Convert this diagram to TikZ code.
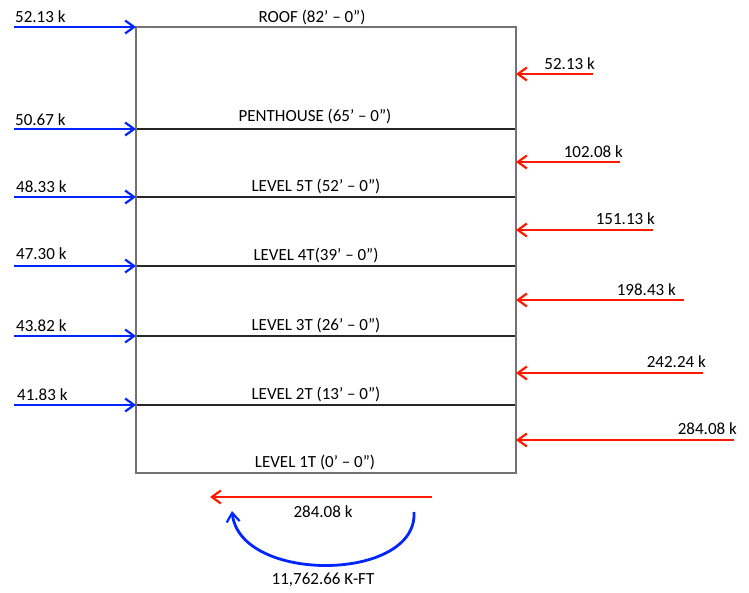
\documentclass[tikz,border=0pt]{standalone}
\usepackage{fontspec}
\setmainfont{Carlito}
\usetikzlibrary{arrows.meta}

\tikzset{
  frame/.style={draw=black!55,line width=2pt},
  floor/.style={draw=black!85,line width=1.4pt},
  windload/.style={draw=blue!85!cyan,line width=2.8pt,-{Straight Barb[length=9pt,width=13pt,line width=2.2pt]}},
  storyshear/.style={draw=red!80!orange,line width=2.8pt,-{Straight Barb[length=9pt,width=13pt,line width=2.2pt]}},
  lbl/.style={inner sep=0pt,font=\fontsize{17}{19}\selectfont}
}

\begin{document}
\begin{tikzpicture}[x=1pt,y=-1pt]
      \useasboundingbox (0,0) rectangle (749,593);
      % building outline and floors
      \coordinate (roofL) at (136,27);
      \coordinate (roofR) at (516,27);
      \coordinate (baseL) at (136,473);
      \coordinate (baseR) at (516,473);
      \coordinate (phL) at (136,129);  \coordinate (phR) at (516,129);
      \coordinate (l5L) at (136,197);  \coordinate (l5R) at (516,197);
      \coordinate (l4L) at (136,266);  \coordinate (l4R) at (516,266);
      \coordinate (l3L) at (136,336);  \coordinate (l3R) at (516,336);
      \coordinate (l2L) at (136,405);  \coordinate (l2R) at (516,405);
      \draw[floor] (phL) -- (phR);
      \draw[floor] (l5L) -- (l5R);
      \draw[floor] (l4L) -- (l4R);
      \draw[floor] (l3L) -- (l3R);
      \draw[floor] (l2L) -- (l2R);
      \draw[frame] (roofL) -- (roofR) -- (baseR) -- (baseL) -- cycle;
      \draw
        (312,17) node[lbl] (roof){ROOF (82’ – 0”)}
        (315,116) node[lbl] (ph){PENTHOUSE (65’ – 0”)}
        (316,186) node[lbl] (lv5){LEVEL 5T (52’ – 0”)}
        (316,255) node[lbl] (lv4){LEVEL 4T(39’ – 0”)}
        (316,325) node[lbl] (lv3){LEVEL 3T (26’ – 0”)}
        (316,394) node[lbl] (lv2){LEVEL 2T (13’ – 0”)}
        (315,462) node[lbl] (lv1){LEVEL 1T (0’ – 0”)};
      % wind loads at each level
      \coordinate (w1) at (14,27);
      \coordinate (w2) at (14,129);
      \coordinate (w3) at (14,197);
      \coordinate (w4) at (14,266);
      \coordinate (w5) at (14,336);
      \coordinate (w6) at (14,405);
      \draw[windload] (w1) -- (roofL);
      \draw[windload] (w2) -- (phL);
      \draw[windload] (w3) -- (l5L);
      \draw[windload] (w4) -- (l4L);
      \draw[windload] (w5) -- (l3L);
      \draw[windload] (w6) -- (l2L);
      \draw
        (15,17) node[lbl,anchor=west] (f1){52.13 k}
        (15,120) node[lbl,anchor=west] (f2){50.67 k}
        (16,187) node[lbl,anchor=west] (f3){48.33 k}
        (16,254) node[lbl,anchor=west] (f4){47.30 k}
        (16,326) node[lbl,anchor=west] (f5){43.82 k}
        (17,395) node[lbl,anchor=west] (f6){41.83 k};
      % story shears
      \coordinate (s1a) at (593,74);   \coordinate (s1b) at (516,74);
      \coordinate (s2a) at (620,162);  \coordinate (s2b) at (516,162);
      \coordinate (s3a) at (653,230);  \coordinate (s3b) at (516,230);
      \coordinate (s4a) at (684,300);  \coordinate (s4b) at (516,300);
      \coordinate (s5a) at (703,373);  \coordinate (s5b) at (516,373);
      \coordinate (s6a) at (734,440);  \coordinate (s6b) at (516,440);
      \draw[storyshear] (s1a) -- (s1b);
      \draw[storyshear] (s2a) -- (s2b);
      \draw[storyshear] (s3a) -- (s3b);
      \draw[storyshear] (s4a) -- (s4b);
      \draw[storyshear] (s5a) -- (s5b);
      \draw[storyshear] (s6a) -- (s6b);
      \draw
        (595,64) node[lbl,anchor=east] (v1){52.13 k}
        (623,152) node[lbl,anchor=east] (v2){102.08 k}
        (655,219) node[lbl,anchor=east] (v3){151.13 k}
        (676,290) node[lbl,anchor=east] (v4){198.43 k}
        (706,362) node[lbl,anchor=east] (v5){242.24 k}
        (737,429) node[lbl,anchor=east] (v6){284.08 k};
      % base shear and overturning moment
      \coordinate (bsa) at (432,497);
      \coordinate (bsb) at (210,497);
      \coordinate (ma) at (414,512);
      \coordinate (mb) at (232,511);
      \draw[storyshear] (bsa) -- (bsb);
      \draw[windload] (ma) .. controls (418,582) and (240,584) .. (mb);
      \draw
        (323,512) node[lbl] (vb){284.08 k}
        (323,580) node[lbl] (mo){11,762.66 K-FT};
    \end{tikzpicture}
\end{document}
